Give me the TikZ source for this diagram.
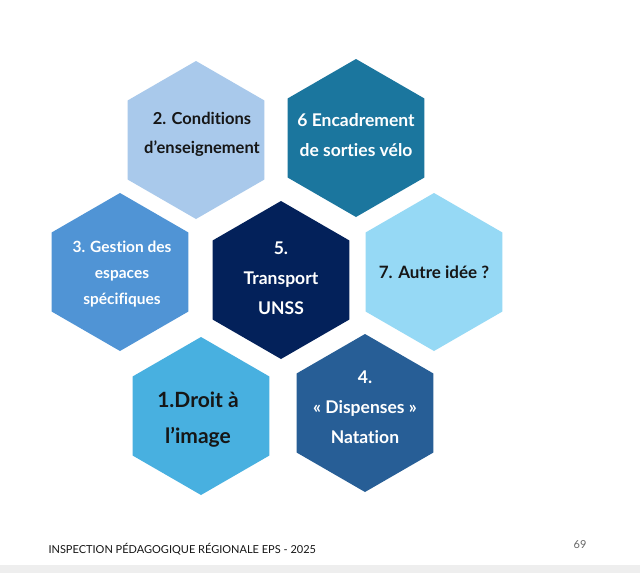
\documentclass[tikz,border=0pt]{standalone}
\usepackage{fontspec}
\setsansfont{Lato}[Ligatures=NoCommon]
\usetikzlibrary{shapes.geometric}
\definecolor{hexpale}{HTML}{A9C9EB}
\definecolor{hexteal}{HTML}{1B769E}
\definecolor{hexmid}{HTML}{5094D5}
\definecolor{hexnavy}{HTML}{03215A}
\definecolor{hexcyan}{HTML}{96D9F5}
\definecolor{hexsky}{HTML}{48B0E0}
\definecolor{hexdeep}{HTML}{275E96}
\definecolor{txtdark}{HTML}{161616}
\definecolor{footgray}{HTML}{EEEEEE}
\tikzset{
  hexa/.style={regular polygon, regular polygon sides=6, shape border rotate=90,
    minimum size=158pt, inner sep=0pt, draw=none},
  hlab/.style={align=center, font=\sffamily\bfseries\fontsize{17.5}{30}\selectfont, text=white},
  hlabdark/.style={hlab, text=txtdark},
}

\begin{document}
\begin{tikzpicture}[x=1pt, y=-1pt]
    \useasboundingbox[fill=white] (0,0) rectangle (640,573);
    \fill[footgray] (0,565) rectangle (640,573);

    \node[hexa, fill=hexpale] (cond) at (196,140) {};
    \node[hexa, fill=hexteal] (velo) at (356,138) {};
    \node[hexa, fill=hexmid] (esp) at (120,272) {};
    \node[hexa, fill=hexnavy] (unss) at (281,280) {};
    \node[hexa, fill=hexcyan] (idee) at (434,272) {};
    \node[hexa, fill=hexsky] (img) at (201,416) {};
    \node[hexa, fill=hexdeep] (nat) at (365,413) {};

    \node[hlabdark, font=\sffamily\bfseries\fontsize{16.5}{29}\selectfont] (condt) at ([xshift=6pt, yshift=6pt]cond.center) {2. Conditions\\d’enseignement};
    \node[hlab] (velot) at ([yshift=3pt]velo.center) {6 Encadrement\\de sorties vélo};
    \node[hlab, font=\sffamily\bfseries\fontsize{15.5}{26}\selectfont] (espt) at ([xshift=2pt, yshift=-2pt]esp.center) {3. Gestion des\\espaces\\spécifiques};
    \node[hlab] (unsst) at ([yshift=2pt]unss.center) {5.\\Transport\\UNSS};
    \node[hlabdark, font=\sffamily\bfseries\fontsize{17}{30}\selectfont] (ideet) at (idee.center) {7. Autre idée ?};
    \node[hlabdark, font=\sffamily\bfseries\fontsize{21}{36}\selectfont] (imgt) at ([xshift=-3pt, yshift=-4pt]img.center) {1.Droit à\\l’image};
    \node[hlab] (natt) at ([yshift=6pt]nat.center) {4.\\« Dispenses »\\Natation};

    \node[anchor=base west, font=\sffamily\fontsize{11}{13}\selectfont, text=txtdark] (foot) at (45,553) {INSPECTION PÉDAGOGIQUE RÉGIONALE EPS - 2025};
    \node[anchor=base east, font=\sffamily\fontsize{11}{13}\selectfont, text=black!60] (page) at (590,548) {69};
\end{tikzpicture}
\end{document}
